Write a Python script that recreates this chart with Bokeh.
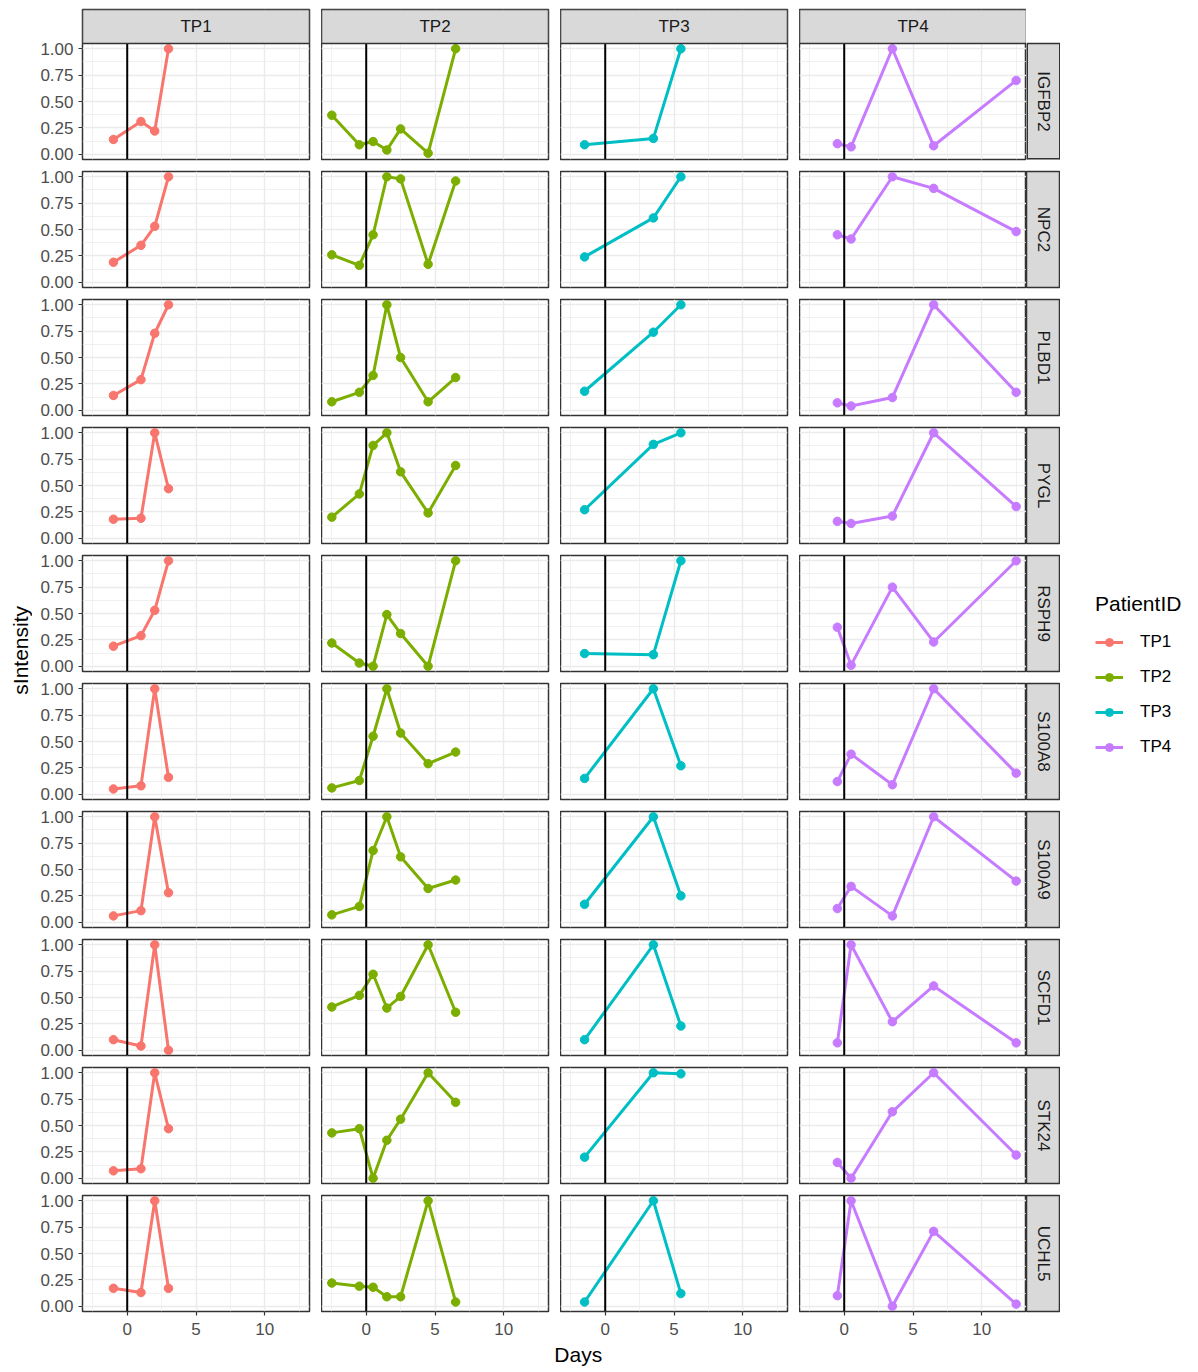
import math
from bokeh.plotting import figure
from bokeh.models import (GridBox, Range1d, FixedTicker, NumeralTickFormatter, Span,
                          Legend, LegendItem, ColumnDataSource, BoxAnnotation, Label)
from bokeh.embed import file_html
from bokeh.resources import INLINE
from bokeh.core.properties import value

# ---------------- data ----------------
patients = ["TP1", "TP2", "TP3", "TP4"]
genes = ["IGFBP2", "NPC2", "PLBD1", "PYGL", "RSPH9", "S100A8", "S100A9", "SCFD1", "STK24", "UCHL5"]
colors = ["#F8766D", "#7CAE00", "#00BFC4", "#C77CFF"]

days_tp1 = [-1, 1, 2, 3]
days_tp2 = [-2.5, -0.5, 0.5, 1.5, 2.5, 4.5, 6.5]
days_tp3 = [-1.5, 3.5, 5.5]
days_tp4 = [-0.5, 0.5, 3.5, 6.5, 12.5]

x_ticks = [0, 5, 10]
x_minor = [-2.5, 2.5, 7.5, 12.5]
y_ticks = [0, 0.25, 0.5, 0.75, 1.0]
y_minor = [0.125, 0.375, 0.625, 0.875]

igfbp2 = {"TP1": [0.14, 0.31, 0.22, 1.0],
          "TP2": [0.37, 0.09, 0.12, 0.04, 0.24, 0.01, 1.0],
          "TP3": [0.09, 0.15, 1.0],
          "TP4": [0.10, 0.07, 1.0, 0.08, 0.70]}
npc2 = {"TP1": [0.19, 0.35, 0.53, 1.0],
        "TP2": [0.26, 0.16, 0.45, 1.0, 0.98, 0.17, 0.96],
        "TP3": [0.24, 0.61, 1.0],
        "TP4": [0.45, 0.41, 1.0, 0.89, 0.48]}
plbd1 = {"TP1": [0.14, 0.29, 0.73, 1.0],
         "TP2": [0.08, 0.17, 0.33, 1.0, 0.50, 0.08, 0.31],
         "TP3": [0.18, 0.74, 1.0],
         "TP4": [0.07, 0.04, 0.12, 1.0, 0.17]}
pygl = {"TP1": [0.18, 0.19, 1.0, 0.47],
        "TP2": [0.20, 0.42, 0.88, 1.0, 0.63, 0.24, 0.69],
        "TP3": [0.27, 0.89, 1.0],
        "TP4": [0.16, 0.14, 0.21, 1.0, 0.30]}
rsph9 = {"TP1": [0.19, 0.29, 0.53, 1.0],
         "TP2": [0.22, 0.03, 0.0, 0.49, 0.31, 0.0, 1.0],
         "TP3": [0.12, 0.11, 1.0],
         "TP4": [0.37, 0.01, 0.75, 0.23, 1.0]}
s100a8 = {"TP1": [0.05, 0.08, 1.0, 0.16],
          "TP2": [0.06, 0.13, 0.55, 1.0, 0.58, 0.29, 0.40],
          "TP3": [0.15, 1.0, 0.27],
          "TP4": [0.12, 0.38, 0.09, 1.0, 0.20]}
s100a9 = {"TP1": [0.06, 0.11, 1.0, 0.28],
          "TP2": [0.07, 0.15, 0.68, 1.0, 0.62, 0.32, 0.40],
          "TP3": [0.17, 1.0, 0.25],
          "TP4": [0.13, 0.34, 0.06, 1.0, 0.39]}
scfd1 = {"TP1": [0.10, 0.04, 1.0, 0.0],
         "TP2": [0.41, 0.52, 0.72, 0.40, 0.51, 1.0, 0.36],
         "TP3": [0.10, 1.0, 0.23],
         "TP4": [0.07, 1.0, 0.27, 0.61, 0.07]}
stk24 = {"TP1": [0.07, 0.09, 1.0, 0.47],
         "TP2": [0.43, 0.47, 0.0, 0.36, 0.56, 1.0, 0.72],
         "TP3": [0.20, 1.0, 0.99],
         "TP4": [0.15, 0.0, 0.63, 1.0, 0.22]}
uchl5 = {"TP1": [0.17, 0.13, 1.0, 0.17],
         "TP2": [0.22, 0.19, 0.18, 0.09, 0.09, 1.0, 0.04],
         "TP3": [0.04, 1.0, 0.12],
         "TP4": [0.10, 1.0, 0.0, 0.71, 0.02]}

gene_values = [igfbp2, npc2, plbd1, pygl, rsph9, s100a8, s100a9, scfd1, stk24, uchl5]
patient_days = [days_tp1, days_tp2, days_tp3, days_tp4]

# ---------------- styling / layout constants ----------------
FONT = "Liberation Sans"
FW, FH = 227, 116
GAP = 12
HALF = GAP // 2
LEFT_AX = 50
BOTTOM_AX = 30
STRIP = 34
TOP_PAD = 9
YT_W = 32
nrow, ncol = len(genes), len(patients)
STRIP_FILL = "#D9D9D9"
BORDER = "#333333"
Y_LO, Y_HI = -0.05, 1.05


def base_fig(**kw):
    return figure(output_backend="svg", toolbar_location=None, tools="", title=None, **kw)


children = []
row_heights = []
for r, g in enumerate(genes):
    first = r == 0
    last = r == nrow - 1
    top_b = TOP_PAD if first else HALF
    bot_b = BOTTOM_AX if last else HALF
    fh = FH + STRIP if first else FH
    y_hi = Y_HI + (Y_HI - Y_LO) * STRIP / FH if first else Y_HI
    row_heights.append(top_b + fh + bot_b)
    for c, pt in enumerate(patients):
        p = base_fig(frame_width=FW, frame_height=fh,
                     x_range=Range1d(-3.25, 13.25), y_range=Range1d(Y_LO, y_hi),
                     x_axis_location="below" if last else None,
                     y_axis_location="left" if c == 0 else None,
                     min_border_left=LEFT_AX if c == 0 else 0,
                     min_border_right=GAP if c < ncol - 1 else 0,
                     min_border_top=top_b,
                     min_border_bottom=bot_b)
        p.outline_line_color = BORDER
        p.outline_line_width = 1.5
        p.xgrid.ticker = FixedTicker(ticks=x_ticks, minor_ticks=x_minor)
        p.ygrid.ticker = FixedTicker(ticks=y_ticks, minor_ticks=y_minor)
        for grid in (p.xgrid, p.ygrid):
            grid.grid_line_color = "#EBEBEB"
            grid.grid_line_width = 1.4
            grid.minor_grid_line_color = "#EBEBEB"
            grid.minor_grid_line_width = 0.7
        if c == 0:
            p.yaxis.ticker = FixedTicker(ticks=y_ticks)
            p.yaxis.formatter = NumeralTickFormatter(format="0.00")
        if last:
            p.xaxis.ticker = FixedTicker(ticks=x_ticks)
        for ax in p.axis:
            ax.axis_line_color = None
            ax.major_tick_line_color = BORDER
            ax.major_tick_line_width = 1.2
            ax.major_tick_out = 4
            ax.major_tick_in = 0
            ax.minor_tick_line_color = None
            ax.major_label_standoff = 5
            ax.major_label_text_font = FONT
            ax.major_label_text_font_size = "17px"
            ax.major_label_text_color = "#4D4D4D"
        if last:
            p.xaxis.major_label_standoff = 7
        src = ColumnDataSource(dict(x=patient_days[c], y=gene_values[r][pt]))
        p.line("x", "y", source=src, line_color=colors[c], line_width=3)
        p.scatter("x", "y", source=src, size=8.5, fill_color=colors[c], line_color=colors[c], line_width=1)
        p.add_layout(Span(location=0, dimension="height", line_color="black", line_width=2))
        if first:
            # facet strip (column label) on top of the first row of panels
            p.add_layout(BoxAnnotation(bottom=Y_HI, fill_color=STRIP_FILL, fill_alpha=1.0,
                                       line_color=BORDER, line_width=1.5, line_alpha=1.0,
                                       level="overlay"))
            p.add_layout(Label(x=FW / 2, y=FH + STRIP / 2, x_units="screen", y_units="screen",
                               text=pt, text_align="center", text_baseline="middle",
                               text_font=FONT, text_font_size="17px", text_color="#1A1A1A",
                               level="overlay"))
        children.append((p, r, c + 1))

    # right strip (row label)
    s = base_fig(frame_width=STRIP, frame_height=fh, x_range=Range1d(0, 1), y_range=Range1d(0, fh / FH),
                 x_axis_location=None, y_axis_location=None,
                 min_border_left=0, min_border_right=0,
                 min_border_top=top_b, min_border_bottom=bot_b)
    s.xgrid.visible = False
    s.ygrid.visible = False
    if first:
        s.outline_line_color = None
        s.quad(left=[0], right=[1], bottom=[0], top=[1], fill_color=STRIP_FILL, line_color=None)
        # border: outer edges sit on the frame edge (half clipped), top edge inside
        s.segment(x0=[0, 1, 0], y0=[0, 0, 0], x1=[0, 1, 1], y1=[1, 1, 0], line_color=BORDER, line_width=3)
        s.segment(x0=[0], y0=[1], x1=[1], y1=[1], line_color=BORDER, line_width=1.5)
    else:
        s.background_fill_color = STRIP_FILL
        s.outline_line_color = BORDER
        s.outline_line_width = 1.5
    s.text(x=[0.5], y=[0.5], text=[g], angle=-math.pi / 2, text_align="center", text_baseline="middle",
           text_font=value(FONT), text_font_size="17px", text_color="#1A1A1A")
    children.append((s, r, ncol + 1))

# y-axis title (spans all panel rows)
col_h = sum(row_heights)
yt = base_fig(width=YT_W, height=col_h, x_range=Range1d(0, YT_W), y_range=Range1d(col_h, 0),
              x_axis_location=None, y_axis_location=None,
              min_border_left=0, min_border_right=0, min_border_top=0, min_border_bottom=0,
              outline_line_color=None)
yt.xgrid.visible = False
yt.ygrid.visible = False
yt.text(x=[20], y=[660], text=["sIntensity"], angle=math.pi / 2, text_align="center", text_baseline="middle",
        text_font=value(FONT), text_font_size="21px", text_color="black")
children.append((yt, 0, 0, nrow, 1))

# x-axis title
tot_w = LEFT_AX + FW + GAP + (FW + GAP) * (ncol - 2) + FW
XT_H = 28
xt = base_fig(width=tot_w, height=XT_H, x_range=Range1d(0, tot_w), y_range=Range1d(XT_H, 0),
              x_axis_location=None, y_axis_location=None,
              min_border_left=0, min_border_right=0, min_border_top=0, min_border_bottom=0,
              outline_line_color=None)
xt.xgrid.visible = False
xt.ygrid.visible = False
xt.text(x=[LEFT_AX + (tot_w - LEFT_AX) / 2], y=[13], text=["Days"], text_align="center", text_baseline="middle",
        text_font=value(FONT), text_font_size="21px", text_color="black")
children.append((xt, nrow, 1, 1, ncol))

# legend
lf = base_fig(width=126, height=col_h, x_range=Range1d(0, 1), y_range=Range1d(0, 1),
              x_axis_location=None, y_axis_location=None,
              min_border_left=0, min_border_right=0, min_border_top=0, min_border_bottom=0,
              outline_line_color=None)
lf.xgrid.visible = False
lf.ygrid.visible = False
items = []
nan = float("nan")
for pt, col in zip(patients, colors):
    lsrc = ColumnDataSource(dict(x=[nan], y=[nan]))
    lr = lf.line("x", "y", source=lsrc, line_color=col, line_width=3)
    sr = lf.scatter("x", "y", source=lsrc, fill_color=col, line_color=col, size=8.5)
    items.append(LegendItem(label=pt, renderers=[lr, sr]))
legend = Legend(items=items, location=(35, 554), title="PatientID",
                title_text_font=FONT, title_text_font_size="21px", title_text_font_style="normal",
                title_text_color="black", title_standoff=16,
                label_text_font=FONT, label_text_font_size="17px", label_text_color="black",
                glyph_width=28, glyph_height=20, label_height=20, label_standoff=17,
                spacing=15, padding=0, margin=0,
                border_line_color=None, background_fill_alpha=0)
lf.add_layout(legend, "center")
children.append((lf, 0, ncol + 2, nrow, 1))

layout = GridBox(children=children, spacing=0)

open("out.html", "w").write(file_html(layout, INLINE))
